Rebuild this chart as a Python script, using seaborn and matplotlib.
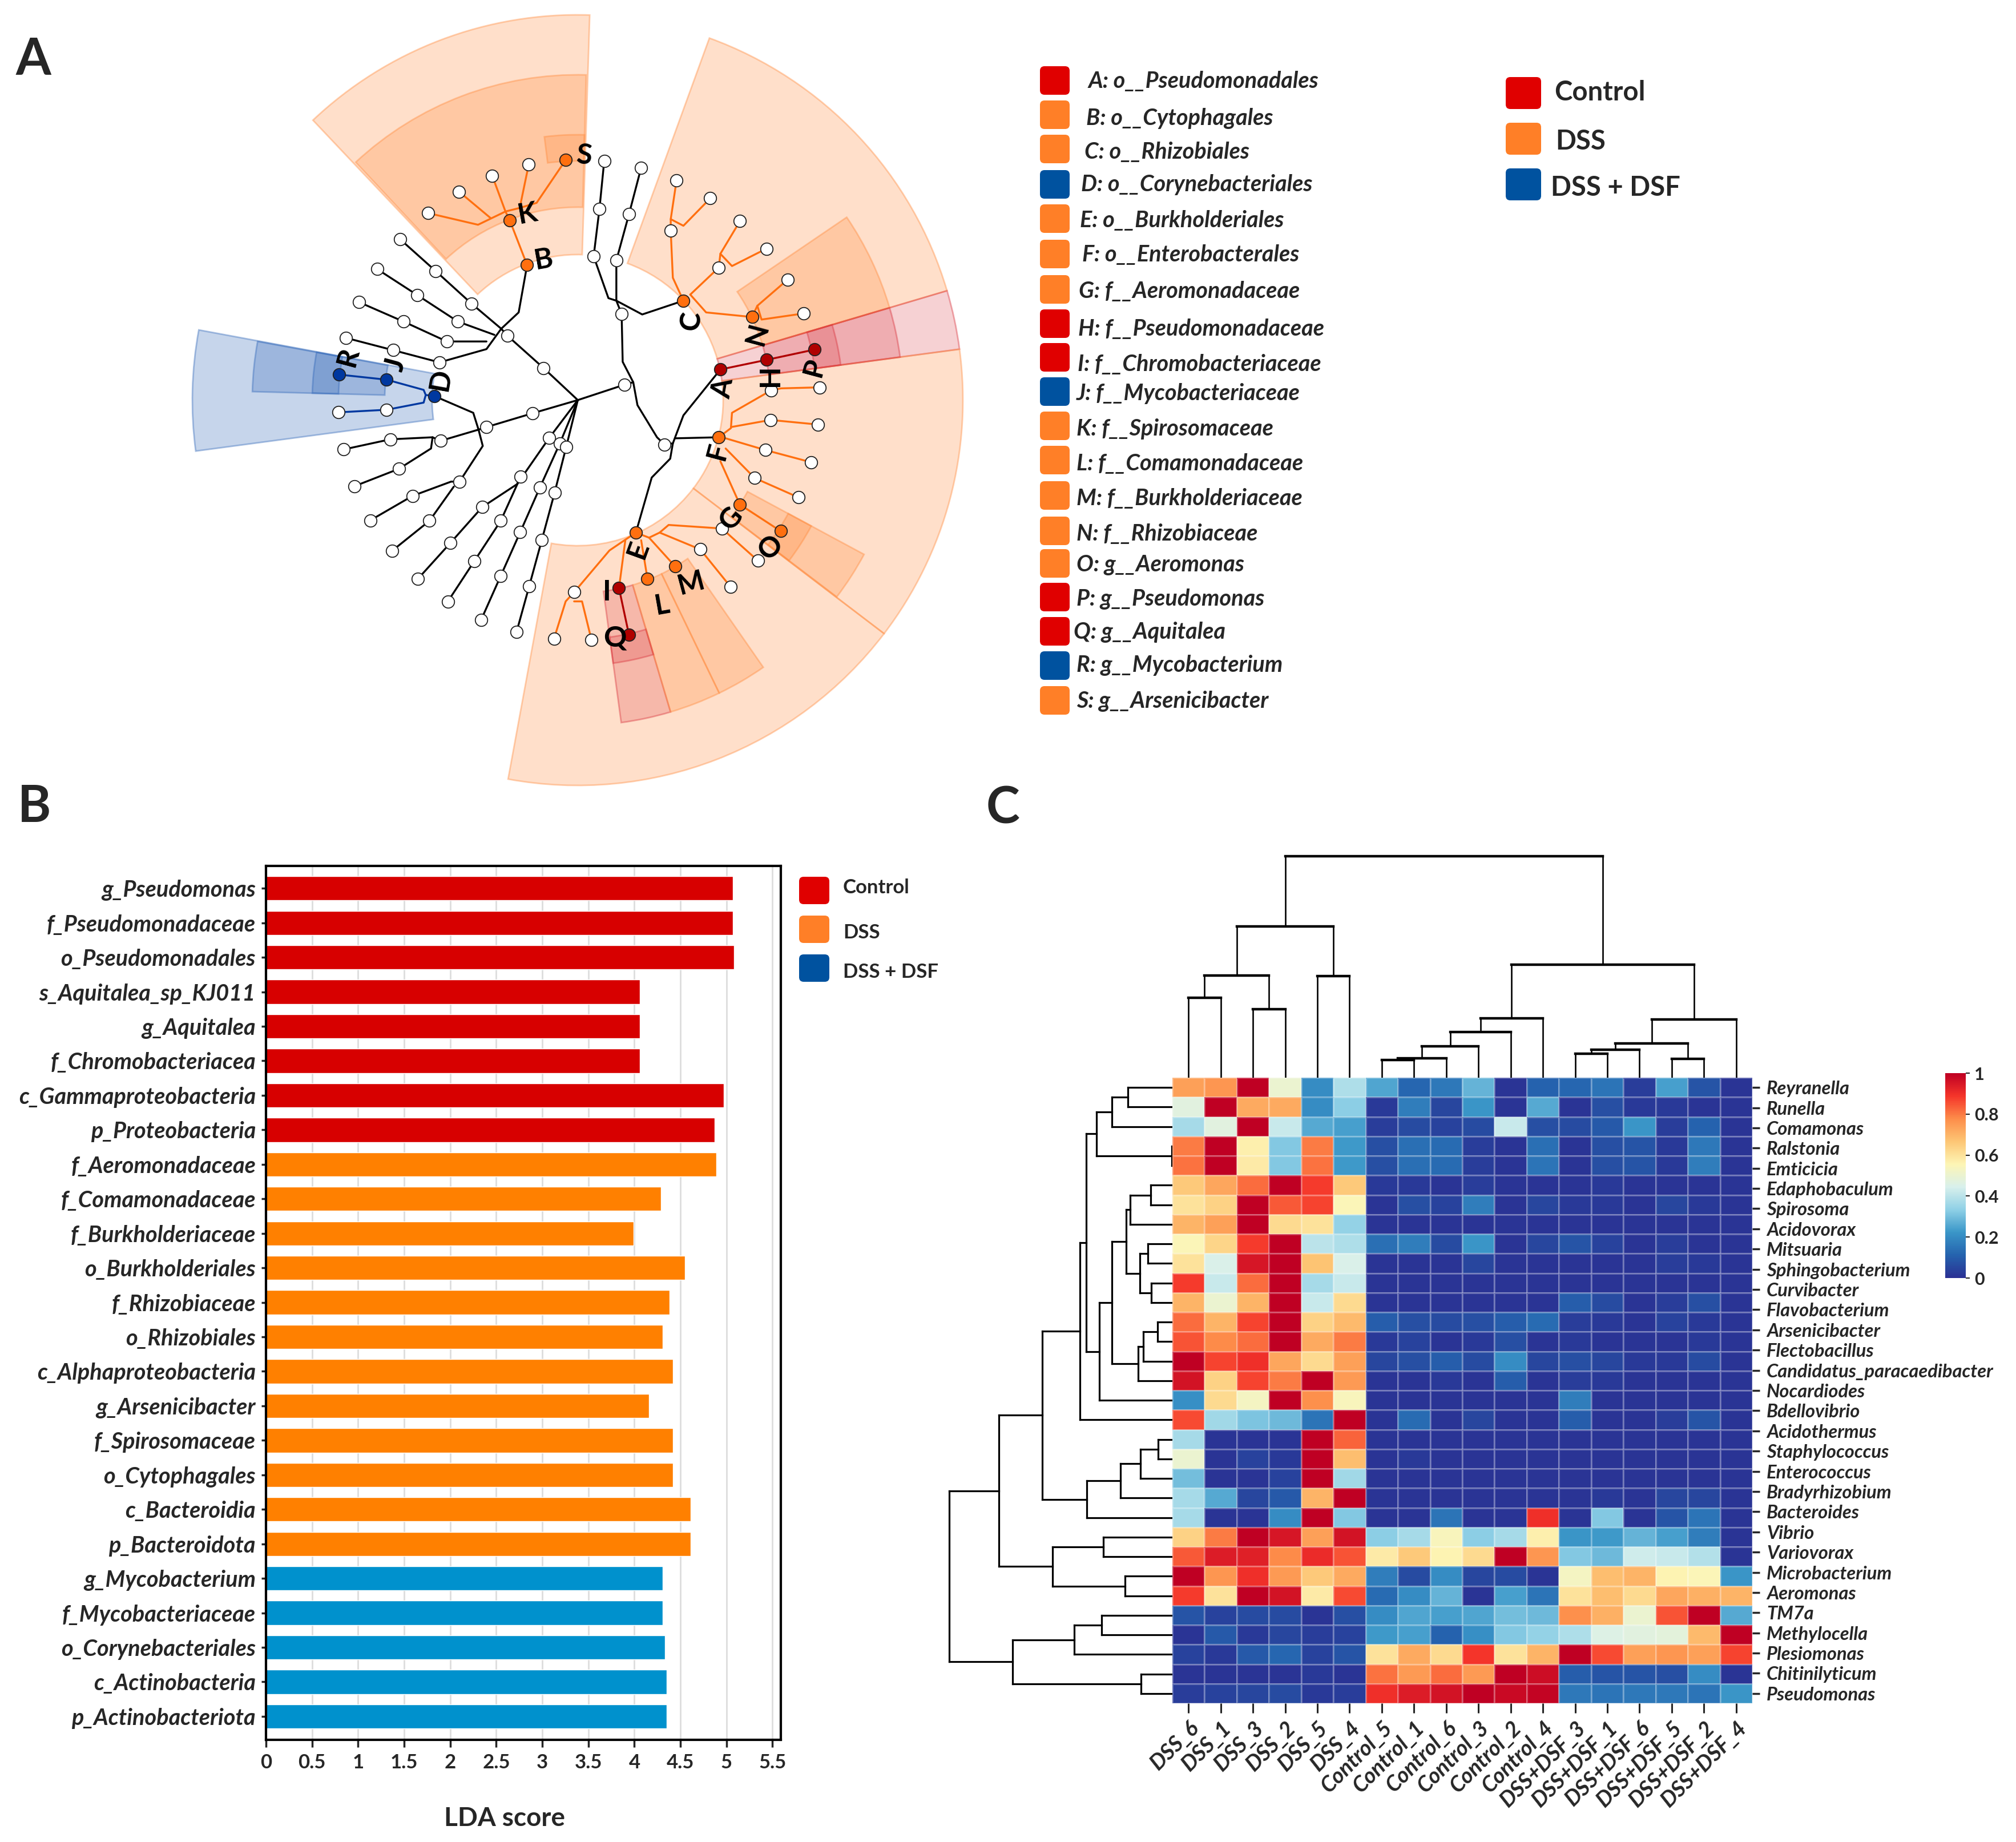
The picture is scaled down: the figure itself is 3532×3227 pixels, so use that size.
import numpy as np
import matplotlib
matplotlib.use("Agg")
import matplotlib.pyplot as plt
import matplotlib.colors as mcolors
from matplotlib.patches import FancyBboxPatch, Wedge
import pandas as pd
import seaborn as sns

W, H = 3532, 3227
RED, ORANGE, BLUE = "#e00000", "#ff7f27", "#00529f"

# ---- panel A, legend
CLADE_NAMES = ["A: o__Pseudomonadales", "B: o__Cytophagales", "C: o__Rhizobiales", "D: o__Corynebacteriales",
               "E: o__Burkholderiales", "F: o__Enterobacterales", "G: f__Aeromonadaceae", "H: f__Pseudomonadaceae",
               "I: f__Chromobacteriaceae", "J: f__Mycobacteriaceae", "K: f__Spirosomaceae", "L: f__Comamonadaceae",
               "M: f__Burkholderiaceae", "N: f__Rhizobiaceae", "O: g__Aeromonas", "P: g__Pseudomonas",
               "Q: g__Aquitalea", "R: g__Mycobacterium", "S: g__Arsenicibacter"]
CLADE_GROUP = ["c", "d", "d", "f", "d", "d", "d", "c", "c", "f", "d", "d", "d", "d", "d", "c", "c", "f", "d"]
CLADE_SWATCH_Y = [141, 201, 261, 323, 383, 445, 507, 567, 626, 686, 746, 806, 868, 930, 987, 1046, 1106, 1166, 1227]
CLADE_TEXT_X = [1907, 1903, 1900, 1894, 1892, 1896, 1890, 1889, 1888, 1886, 1886, 1886, 1886, 1886, 1886, 1886, 1881, 1886, 1886]
CLADE_TEXT_Y = [143, 208, 266, 323, 386, 446, 511, 577, 638, 689, 751, 812, 873, 935, 989, 1049, 1107, 1165, 1228]

# ---- panel A, sectors: start angle, end angle, inner radius, outer radius, group
SECTOR_START = [88.2, 16.5, 7.6, -37.3, -100.4, 169.5, 88.5, 16.5, 7.6, -37.2, -82.3, -73.4, -64.2, 169.6, 88.5, 7.6, -37.2, -82.3, 169.6]
SECTOR_END = [133.4, 70.0, 16.5, 7.6, -37.3, 187.6, 133.0, 34.2, 16.5, -28.3, -73.4, -64.2, -55.2, 178.5, 97.2, 16.5, -28.3, -73.4, 178.5]
SECTOR_INNER = [255, 255, 255, 255, 255, 255, 338, 338, 338, 338, 338, 338, 338, 338, 419, 419, 419, 419, 419]
SECTOR_OUTER = [675, 675, 675, 675, 675, 675, 570, 570, 570, 570, 570, 570, 570, 570, 465, 465, 465, 465, 465]
SECTOR_GROUP = ["d", "d", "c", "d", "d", "f", "d", "d", "c", "d", "c", "d", "d", "f", "d", "c", "d", "c", "f"]

# ---- panel A, tree (crop coordinates)
WHITE_NODES = [(853, 616), (858, 755), (800, 503), (811, 410), (820, 316), (843, 511), (867, 420), (890, 329),
               (934, 872), (705, 722), (637, 659), (569, 596), (501, 532), (433, 469), (543, 631), (466, 579),
               (390, 528), (522, 670), (440, 631), (356, 593), (508, 711), (420, 687), (331, 663), (684, 811),
               (597, 838), (510, 865), (415, 862), (326, 882), (431, 920), (347, 954), (546, 945), (457, 973),
               (377, 1021), (489, 1022), (418, 1081), (716, 859), (589, 995), (529, 1065), (467, 1136), (662, 935),
               (624, 1022), (574, 1101), (524, 1180), (736, 870), (698, 957), (661, 1044), (624, 1130), (587, 1216),
               (748, 877), (726, 967), (702, 1059), (678, 1150), (654, 1240), (486, 418), (545, 376), (608, 345),
               (677, 323), (946, 453), (957, 354), (1021, 389), (1037, 525), (1077, 434), (1127, 488), (1167, 549),
               (1198, 615), (1136, 766), (1228, 760), (1135, 824), (1225, 833), (1125, 883), (1212, 907), (1105, 938),
               (1188, 976), (1043, 1037), (1111, 1100), (1002, 1078), (1059, 1151), (763, 1162), (725, 1253),
               (796, 1256), (408, 804), (317, 809)]
ORANGE_NODES = [(674, 520), (641, 432), (747, 314), (970, 590), (1100, 622), (1037, 858), (1077, 990), (1154, 1042),
                (880, 1045), (954, 1111), (902, 1136)]
RED_NODES = [(1040, 725), (1128, 706), (1218, 686), (848, 1154), (867, 1246)]
BLUE_NODES = [(498, 777), (408, 745), (318, 735)]

BLACK_PATHS = [
    [(770, 785), (858, 755), (875, 750), (855, 710), (853, 616), (843, 590), (828, 585), (800, 503), (811, 410), (820, 316)],
    [(843, 590), (843, 511), (867, 420), (890, 329)],
    [(843, 590), (892, 617), (970, 590)],
    [(875, 750), (883, 795), (920, 858), (934, 872), (950, 870), (970, 815), (1040, 725)],
    [(950, 870), (945, 900), (910, 937), (880, 1045)],
    [(955, 860), (1037, 858)],
    [(770, 785), (705, 722), (637, 659), (625, 645), (569, 596), (501, 532), (433, 469)],
    [(612, 657), (543, 631), (466, 579), (390, 528)],
    [(597, 670), (522, 670), (440, 631), (356, 593)],
    [(625, 645), (597, 685), (508, 711), (420, 687), (331, 663)],
    [(625, 645), (658, 613), (674, 520)],
    [(770, 785), (684, 811), (597, 838), (582, 843), (510, 865), (495, 858), (415, 862), (326, 882)],
    [(495, 858), (492, 880), (431, 920), (347, 954)],
    [(582, 843), (572, 810), (498, 777)],
    [(582, 843), (590, 875), (546, 945), (530, 945), (457, 973), (377, 1021)],
    [(535, 955), (489, 1022), (418, 1081)],
    [(770, 785), (716, 859), (655, 950), (589, 995), (529, 1065), (467, 1136)],
    [(655, 950), (662, 935), (624, 1022), (574, 1101), (524, 1180)],
    [(770, 785), (736, 870), (698, 957), (661, 1044), (624, 1130), (587, 1216)],
    [(770, 785), (748, 877), (726, 967), (702, 1059), (678, 1150), (654, 1240)],
]
ORANGE_PATHS = [
    [(674, 520), (641, 432), (633, 415), (608, 345)],
    [(633, 415), (581, 441), (486, 418)],
    [(605, 428), (545, 376)],
    [(633, 415), (660, 408), (677, 323)],
    [(660, 408), (692, 398), (747, 314)],
    [(970, 590), (950, 545), (946, 453), (946, 430), (957, 354)],
    [(946, 430), (970, 443), (1021, 389)],
    [(983, 578), (1037, 525), (1040, 498), (1077, 434)],
    [(1040, 498), (1062, 522), (1127, 488)],
    [(983, 578), (1013, 613), (1100, 622), (1110, 600), (1167, 549)],
    [(1110, 600), (1118, 627), (1198, 615)],
    [(1037, 858), (1060, 840), (1062, 810), (1136, 766), (1155, 762), (1228, 760)],
    [(1060, 838), (1135, 824), (1225, 833)],
    [(1050, 860), (1125, 883), (1212, 907)],
    [(1050, 880), (1105, 938), (1188, 976)],
    [(1040, 905), (1077, 990), (1154, 1042)],
    [(880, 1045), (905, 1055), (925, 1045), (942, 1030), (1043, 1037), (1111, 1100)],
    [(925, 1045), (1002, 1078), (1059, 1151)],
    [(905, 1055), (954, 1111)],
    [(890, 1060), (902, 1136)],
    [(860, 1060), (848, 1154)],
    [(880, 1045), (830, 1080), (763, 1162), (747, 1180), (725, 1253)],
    [(763, 1180), (778, 1180), (796, 1256)],
]
RED_PATHS = [[(1040, 725), (1128, 706), (1218, 686)], [(848, 1154), (867, 1246)]]
BLUE_PATHS = [
    [(498, 777), (482, 775), (478, 765), (408, 745), (318, 735)],
    [(482, 775), (478, 790), (408, 804), (317, 809)],
]

NODE_LETTERS = ["S", "K", "B", "C", "N", "H", "P", "A", "F", "G", "O", "E", "I", "L", "M", "Q", "R", "J", "D"]
LETTER_POS = [(782, 305), (675, 420), (705, 510), (985, 630), (1110, 655), (1135, 737), (1218, 720), (1045, 762),
              (1035, 885), (1060, 1018), (1135, 1075), (885, 1078), (825, 1162), (930, 1188), (985, 1145), (840, 1252),
              (335, 700), (425, 715), (510, 745)]
LETTER_ROT = [-5, 10, 10, 85, 75, 90, 75, 80, 75, 50, 45, 70, 0, 10, 15, 0, 75, 75, 80]

# ---- panel B
LDA_TAXA = ["g_Pseudomonas", "f_Pseudomonadaceae", "o_Pseudomonadales", "s_Aquitalea_sp_KJ011", "g_Aquitalea",
            "f_Chromobacteriacea", "c_Gammaproteobacteria", "p_Proteobacteria", "f_Aeromonadaceae", "f_Comamonadaceae",
            "f_Burkholderiaceae", "o_Burkholderiales", "f_Rhizobiaceae", "o_Rhizobiales", "c_Alphaproteobacteria",
            "g_Arsenicibacter", "f_Spirosomaceae", "o_Cytophagales", "c_Bacteroidia", "p_Bacteroidota",
            "g_Mycobacterium", "f_Mycobacteriaceae", "o_Corynebacteriales", "c_Actinobacteria", "p_Actinobacteriota"]
LDA_SCORE = [5.07, 5.07, 5.08, 4.06, 4.06, 4.06, 4.97, 4.87, 4.89, 4.29, 3.99, 4.55, 4.38, 4.31, 4.42, 4.16,
             4.42, 4.42, 4.61, 4.61, 4.31, 4.31, 4.33, 4.35, 4.35]
LDA_GROUP = ["Control"] * 8 + ["DSS"] * 12 + ["DSS + DSF"] * 5
LDA_TICKS = [0, 0.5, 1, 1.5, 2, 2.5, 3, 3.5, 4, 4.5, 5, 5.5]
LDA_TICKLABELS = ["0", "0.5", "1", "1.5", "2", "2.5", "3", "3.5", "4", "4.5", "5", "5.5"]

# ---- panel C
SAMPLES = ["DSS_6", "DSS_1", "DSS_3", "DSS_2", "DSS_5", "DSS_4", "Control_5", "Control_1", "Control_6", "Control_3",
           "Control_2", "Control_4", "DSS+DSF_3", "DSS+DSF_1", "DSS+DSF_6", "DSS+DSF_5", "DSS+DSF_2", "DSS+DSF_4"]
GENERA = ["Reyranella", "Runella", "Comamonas", "Ralstonia", "Emticicia", "Edaphobaculum", "Spirosoma", "Acidovorax",
          "Mitsuaria", "Sphingobacterium", "Curvibacter", "Flavobacterium", "Arsenicibacter", "Flectobacillus",
          "Candidatus_paracaedibacter", "Nocardiodes", "Bdellovibrio", "Acidothermus", "Staphylococcus", "Enterococcus",
          "Bradyrhizobium", "Bacteroides", "Vibrio", "Variovorax", "Microbacterium", "Aeromonas", "TM7a", "Methylocella",
          "Plesiomonas", "Chitinilyticum", "Pseudomonas"]
ABUNDANCE = [
    [.74, .76, 1, .5, .2, .38, .25, .12, .16, .28, .01, .11, .12, .15, .03, .24, .08, .01],
    [.47, 1, .72, .72, .2, .33, .02, .17, .05, .22, .01, .26, .01, .07, .02, .02, .01, .01],
    [.37, .47, 1, .42, .26, .24, .03, .06, .04, .06, .42, .07, .06, .09, .22, .03, .11, .01],
    [.8, 1, .57, .32, .8, .23, .07, .14, .13, .03, .01, .14, .01, .07, .08, .02, .16, .01],
    [.81, 1, .58, .32, .81, .23, .07, .14, .13, .03, .01, .15, .01, .07, .08, .02, .17, .01],
    [.66, .73, .82, 1, .88, .66, .02, .02, .01, .03, .01, .01, .01, .02, .01, .01, .01, .01],
    [.6, .64, 1, .84, .87, .55, .01, .07, .04, .17, .01, .05, .02, .02, .01, .05, .02, .01],
    [.7, .74, 1, .62, .6, .34, .01, .01, .01, .01, .01, .01, .01, .01, .01, .01, .01, .01],
    [.55, .63, .88, 1, .4, .38, .14, .17, .06, .22, .01, .05, .08, .04, .01, .03, .01, .01],
    [.6, .45, .95, 1, .67, .45, .01, .01, .01, .05, .01, .01, .01, .01, .01, .03, .02, .01],
    [.88, .42, .82, 1, .37, .42, .01, .01, .01, .01, .01, .01, .01, .01, .01, .01, .01, .01],
    [.7, .5, .7, 1, .42, .62, .01, .01, .01, .01, .01, .01, .1, .06, .01, .03, .07, .01],
    [.82, .7, .87, 1, .64, .69, .1, .07, .06, .07, .1, .13, .03, .02, .01, .04, .02, .01],
    [.85, .78, .82, 1, .72, .8, .02, .04, .01, .02, .07, .01, .02, .01, .01, .01, .02, .01],
    [1, .87, .9, .73, .62, .74, .05, .07, .1, .06, .2, .05, .07, .05, .02, .02, .06, .01],
    [.96, .64, .87, .8, 1, .75, .01, .01, .02, .01, .1, .01, .03, .02, .01, .01, .01, .01],
    [.21, .62, .53, 1, .77, .54, .01, .01, .01, .01, .01, .01, .17, .01, .01, .01, .01, .01],
    [.86, .36, .31, .29, .15, 1, .01, .13, .01, .05, .01, .01, .1, .01, .01, .03, .08, .01],
    [.37, .01, .01, .01, 1, .83, .01, .01, .01, .01, .01, .01, .01, .01, .01, .01, .01, .01],
    [.5, .01, .04, .02, 1, .68, .01, .02, .01, .01, .01, .01, .01, .01, .01, .01, .01, .01],
    [.3, .01, .01, .04, 1, .36, .01, .01, .01, .01, .01, .01, .01, .01, .01, .01, .01, .01],
    [.37, .26, .05, .09, .7, 1, .01, .01, .01, .01, .01, .01, .01, .02, .01, .05, .05, .01],
    [.37, .01, .01, .2, 1, .32, .01, .01, .15, .01, .01, .9, .01, .32, .01, .08, .15, .01],
    [.64, .8, 1, .95, .74, .96, .33, .37, .54, .33, .37, .57, .22, .23, .28, .24, .17, .01],
    [.84, .94, .93, .78, .91, .85, .58, .66, .56, .62, 1, .76, .32, .29, .43, .42, .39, .01],
    [1, .76, .9, .75, .66, .72, .17, .06, .2, .05, .06, .01, .53, .68, .7, .56, .55, .22],
    [.88, .6, 1, .96, .58, .86, .13, .2, .28, .01, .24, .15, .6, .68, .62, .73, .71, .7],
    [.08, .04, .06, .06, .01, .07, .2, .25, .24, .25, .3, .29, .77, .71, .5, .85, 1, .26],
    [.01, .09, .02, .05, .03, .04, .23, .24, .11, .21, .32, .34, .38, .46, .47, .48, .69, 1],
    [.04, .02, .09, .12, .04, .08, .6, .72, .62, .89, .6, .7, 1, .86, .74, .76, .74, .87],
    [.01, .01, .01, .01, .02, .01, .81, .75, .82, .75, 1, .97, .1, .08, .08, .07, .2, .01],
    [.03, .04, .05, .06, .02, .03, .9, .94, .96, 1, .98, .99, .16, .15, .16, .16, .15, .22],
]
# merges: child a, child b, height; ids above the leaf count point at earlier merges
ROW_LINKS = [(0, 1, 78), (32, 2, 106), (3, 4, 1), (33, 34, 133), (5, 6, 38), (36, 7, 74), (8, 9, 43), (10, 11, 37),
             (38, 39, 57), (37, 40, 81), (12, 13, 26), (42, 14, 51), (43, 15, 60), (41, 44, 106), (45, 16, 128),
             (35, 46, 151), (47, 17, 162), (18, 19, 25), (49, 20, 56), (50, 21, 91), (51, 22, 150), (48, 52, 228),
             (23, 24, 121), (25, 26, 83), (54, 55, 210), (53, 56, 304), (27, 28, 124), (58, 29, 172), (30, 31, 55),
             (59, 60, 280), (57, 61, 391)]
COL_LINKS = [(0, 1, 140), (2, 3, 120), (18, 19, 179), (4, 5, 178), (20, 21, 265), (6, 7, 31), (23, 8, 34), (24, 9, 55),
             (25, 10, 80), (26, 11, 104), (12, 13, 42), (28, 14, 49), (15, 16, 33), (29, 30, 60), (31, 17, 102),
             (27, 32, 198), (22, 33, 388)]

COLORS_HEAT = ["#2a3093", "#2563ae", "#3a96c8", "#8fd0e6", "#d8f0ec", "#fdf5b5", "#fdc675", "#fd8d4a", "#f5352a", "#bf0023"]

sns.set_theme(style="white")
plt.rcParams["font.family"] = ["Lato", "DejaVu Sans"]

fig = plt.figure(figsize=(W / 100, H / 100), dpi=100, facecolor="white")


def px_axes(x0, y0, x1, y1, **kw):
    return fig.add_axes([x0 / W, 1 - y1 / H, (x1 - x0) / W, (y1 - y0) / H], **kw)


def crop(p):
    return 300 + p[0] / 1.081, p[1] / 1.12


def draw_links(ax, links, n, horizontal, lw_cross, lw_stem):
    # positions of the leaves are the cell centres, so the tree follows the heatmap scale
    pos = {i: (i + 0.5, 0.0) for i in range(n)}
    for k, (a, b, h) in enumerate(links):
        pa, ha = pos[a]
        pb, hb = pos[b]
        if horizontal:
            ax.plot([ha, h], [pa, pa], color="black", lw=lw_cross, solid_capstyle="projecting")
            ax.plot([hb, h], [pb, pb], color="black", lw=lw_cross, solid_capstyle="projecting")
            ax.plot([h, h], [pa, pb], color="black", lw=lw_stem, solid_capstyle="projecting")
        else:
            ax.plot([pa, pa], [ha, h], color="black", lw=lw_stem, solid_capstyle="projecting")
            ax.plot([pb, pb], [hb, h], color="black", lw=lw_stem, solid_capstyle="projecting")
            ax.plot([pa, pb], [h, h], color="black", lw=lw_cross, solid_capstyle="projecting")
        pos[n + k] = ((pa + pb) / 2, h)


def swatch(ax, x, y, w, h, color):
    ax.add_patch(FancyBboxPatch((x + 6, y + 6), w - 12, h - 12, boxstyle="round,pad=6,rounding_size=8",
                                facecolor=color, edgecolor="none"))


# overlay in figure pixels for panel A and the hand placed legends
over = px_axes(0, 0, W, H)
over.set_xlim(0, W)
over.set_ylim(H, 0)
over.axis("off")

SECTOR_COL = {"c": "#d8303a", "d": "#ff8a3c", "f": "#2f66b8"}
SECTOR_ALPHA = {"c": 0.22, "d": 0.27, "f": 0.27}
for s, e, ri, ro, g in zip(SECTOR_START, SECTOR_END, SECTOR_INNER, SECTOR_OUTER, SECTOR_GROUP):
    over.add_patch(Wedge((1012, 701), ro, -e, -s, width=ro - ri,
                         facecolor=mcolors.to_rgba(SECTOR_COL[g], SECTOR_ALPHA[g]),
                         edgecolor=mcolors.to_rgba(SECTOR_COL[g], 0.4), lw=2))

for paths, col in [(BLACK_PATHS, "black"), (ORANGE_PATHS, "#ff6f0f"), (RED_PATHS, "#b00000"), (BLUE_PATHS, "#0038a0")]:
    for path in paths:
        xy = np.array([crop(p) for p in path])
        over.plot(xy[:, 0], xy[:, 1], color=col, lw=2.4, solid_joinstyle="round", zorder=3)

for nodes, col in [(WHITE_NODES, "white"), (ORANGE_NODES, "#ff6f0f"), (RED_NODES, "#b00000"), (BLUE_NODES, "#0038a0")]:
    xy = np.array([crop(p) for p in nodes])
    sns.scatterplot(x=xy[:, 0], y=xy[:, 1], ax=over, s=240, color=col, edgecolor="#222222", linewidth=1.3, zorder=4)
over.set_xlim(0, W)
over.set_ylim(H, 0)
over.axis("off")

for t, p, r in zip(NODE_LETTERS, LETTER_POS, LETTER_ROT):
    x, y = crop(p)
    over.text(x, y, t, fontsize=36, fontweight="bold", rotation=r, ha="center", va="center", color="black", zorder=5)

GROUP_COL = {"c": RED, "d": ORANGE, "f": BLUE}
for name, g, sy, tx, ty in zip(CLADE_NAMES, CLADE_GROUP, CLADE_SWATCH_Y, CLADE_TEXT_X, CLADE_TEXT_Y):
    swatch(over, 1822, sy - 25, 52, 50, GROUP_COL[g])
    over.text(tx, ty, name, fontsize=28.5, fontweight="bold", fontstyle="italic", ha="left", va="center")

for y0, col, tx, ty, label in [(135, RED, 2723, 162, "Control"), (215, ORANGE, 2725, 248, "DSS"),
                               (295, BLUE, 2717, 329, "DSS + DSF")]:
    swatch(over, 2638, y0, 62, 56, col)
    over.text(tx, ty, label, fontsize=34, fontweight="bold", ha="left", va="center")

for y0, col, ty, label in [(1536, RED, 1555, "Control"), (1604, ORANGE, 1634, "DSS"), (1672, BLUE, 1703, "DSS + DSF")]:
    swatch(over, 1400, y0, 53, 48, col)
    over.text(1477, ty, label, fontsize=25, fontweight="bold", ha="left", va="center")

for x, y, t in [(58, 105, "A"), (60, 1414, "B"), (1757, 1416, "C")]:
    over.text(x, y, t, fontsize=64, fontweight="bold", ha="center", va="center")

# ---- bars
ax = px_axes(466, 1517, 1368, 3048)
lda = pd.DataFrame({"taxon": LDA_TAXA, "score": LDA_SCORE, "group": LDA_GROUP})
ax.grid(axis="x", color="#dddddd", lw=2)
ax.set_axisbelow(True)
sns.barplot(data=lda, y="taxon", x="score", hue="group", dodge=False, width=0.7, ax=ax, legend=False, saturation=1,
            palette={"Control": "#d70000", "DSS": "#ff8000", "DSS + DSF": "#0091cd"})
ax.set_xlim(0, 5.59)
ax.set_ylim(24.68, -0.65)
ax.set_xticks(LDA_TICKS, LDA_TICKLABELS)
ax.set_xlabel("LDA score", fontsize=33, fontweight="bold", labelpad=44, x=0.463)
ax.set_ylabel("")
ax.tick_params(axis="x", length=9, width=2.5, labelsize=25, bottom=True, pad=8)
ax.tick_params(axis="y", length=6, width=2.5, labelsize=28.5, left=True, pad=7)
for lb in ax.get_xticklabels():
    lb.set_fontweight("bold")
for lb in ax.get_yticklabels():
    lb.set_fontweight("bold")
    lb.set_fontstyle("italic")
for sp in ax.spines.values():
    sp.set_visible(True)
    sp.set_color("black")
    sp.set_linewidth(3)

# ---- heatmap
heat_cmap = mcolors.LinearSegmentedColormap.from_list("heat", COLORS_HEAT)
hm = px_axes(2054, 1888, 3070, 2984)
cax = px_axes(3408, 1880, 3444, 2239)
sns.heatmap(np.array(ABUNDANCE), ax=hm, cbar_ax=cax, cmap=heat_cmap, vmin=0, vmax=1, linewidths=0.8,
            linecolor=(1, 1, 1, 0.28), xticklabels=SAMPLES, yticklabels=False)
hm.yaxis.tick_right()
# 31 names were spread over the 32 rows of the picture
hm.set_yticks(np.linspace(0.5, 31.5, len(GENERA)), GENERA)
hm.tick_params(axis="y", length=9, width=2.5, labelsize=23.5, right=True, left=False, pad=9, labelrotation=0)
hm.tick_params(axis="x", length=12, width=2.2, labelsize=27.5, bottom=True, pad=6)
for lb in hm.get_yticklabels():
    lb.set_fontweight("bold")
    lb.set_fontstyle("italic")
for lb in hm.get_xticklabels():
    lb.set_fontweight("bold")
    lb.set_fontstyle("italic")
    lb.set_rotation(45)
    lb.set_ha("right")
    lb.set_va("top")
    lb.set_rotation_mode("anchor")

cax.tick_params(length=5, width=1.5, labelsize=22, right=True, pad=6)
cax.set_yticks([0, 0.2, 0.4, 0.6, 0.8, 1], ["0", "0.2", "0.4", "0.6", "0.8", "1"])
for lb in cax.get_yticklabels():
    lb.set_fontweight("bold")
for sp in cax.spines.values():
    sp.set_visible(False)

# ---- dendrograms, sharing the cell scale of the heatmap
top = px_axes(2054, 1480, 3070, 1888)
top.set_xlim(0, 18)
top.set_ylim(0, 408)
top.axis("off")
draw_links(top, COL_LINKS, 18, False, 3.2, 1.9)

left = px_axes(1640, 1888, 2054, 2984)
left.set_ylim(32, 0)
left.set_xlim(414, 0)
left.axis("off")
draw_links(left, ROW_LINKS, 32, True, 2.3, 2.3)

fig.savefig("out.png", dpi=100, facecolor="white")
plt.close(fig)
